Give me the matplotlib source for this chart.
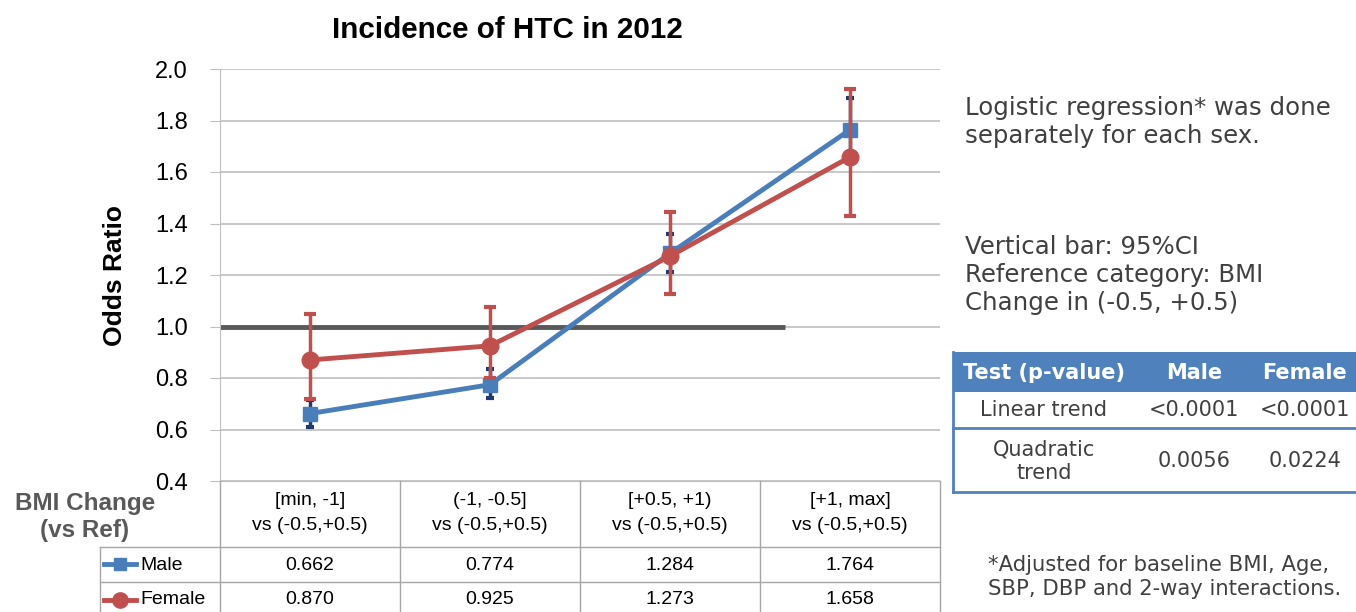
import numpy as np
import matplotlib
matplotlib.use("Agg")
import matplotlib.pyplot as plt

# data
categories = ["[min, -1]\nvs (-0.5,+0.5)", "(-1, -0.5]\nvs (-0.5,+0.5)",
              "[+0.5, +1)\nvs (-0.5,+0.5)", "[+1, max]\nvs (-0.5,+0.5)"]
male_or = [0.662, 0.774, 1.284, 1.764]
female_or = [0.870, 0.925, 1.273, 1.658]
male_lo = [0.61, 0.722, 1.213, 1.645]
male_hi = [0.715, 0.835, 1.359, 1.889]
female_lo = [0.72, 0.80, 1.125, 1.429]
female_hi = [1.048, 1.076, 1.443, 1.922]

test_names = ["Linear trend", "Quadratic\ntrend"]
male_p = ["<0.0001", "0.0056"]
female_p = ["<0.0001", "0.0224"]

BLUE = "#4A7EBB"
RED = "#C0504D"
NAVY = "#1F3B6E"
GRID = "#BFBFBF"
TXT = "#404040"

W, H = 1356, 612
fig = plt.figure(figsize=(W / 100, H / 100), dpi=100)
plt.rcParams['font.family'] = ['Liberation Sans', 'DejaVu Sans']

# main plot area (pixels 220..940 x 69..481)
ax = fig.add_axes([220 / W, 1 - 481 / H, 720 / W, 412 / H])
x = np.arange(len(categories))

ax.set_ylim(0.4, 2.0)
ax.set_xlim(-0.5, len(categories) - 0.5)
yt = np.arange(0.4, 2.01, 0.2)
ax.set_yticks(yt)
ax.set_yticklabels([f"{v:.1f}" for v in yt], fontsize=17)
ax.set_xticks([])
ax.grid(axis='y', color=GRID, lw=1.2)
ax.set_axisbelow(True)
for s in ['top', 'right']:
    ax.spines[s].set_visible(False)
ax.spines['left'].set_color(GRID)
ax.spines['bottom'].set_color(GRID)
ax.tick_params(axis='y', length=7, color=GRID, pad=16)

# reference line at OR = 1
ax.plot([-0.5, 2.64], [1.0, 1.0], color="#595959", lw=3.5, zorder=2, solid_capstyle='butt')

m = np.array(male_or)
f = np.array(female_or)
ax.errorbar(x, m, yerr=[m - np.array(male_lo), np.array(male_hi) - m], fmt='none',
            ecolor=NAVY, elinewidth=2.5, capsize=3, capthick=3, zorder=3)
ax.plot(x, m, color=BLUE, lw=3.5, marker='s', ms=10, zorder=4)
ax.errorbar(x, f, yerr=[f - np.array(female_lo), np.array(female_hi) - f], fmt='none',
            ecolor=RED, elinewidth=2.5, capsize=4, capthick=3, zorder=5)
ax.plot(x, f, color=RED, lw=3.5, marker='o', ms=12, zorder=6)

ax.set_ylabel("Odds Ratio", fontsize=19, fontweight='bold', labelpad=20)
fig.text(507 / W, 1 - 30 / H, "Incidence of HTC in 2012", fontsize=21.3,
         fontweight='bold', ha='center', va='center')

# overlay in pixel coordinates for the data table and notes
ov = fig.add_axes([0, 0, 1, 1])
ov.set_xlim(0, W)
ov.set_ylim(H, 0)
ov.axis('off')
ov.patch.set_visible(False)

lc = "#A6A6A6"
col_edges = [220 + 180 * i for i in range(len(categories) + 1)]
for xe in col_edges:
    ov.plot([xe, xe], [481, H], color=lc, lw=1)
ov.plot([100, 100], [547, H], color=lc, lw=1)
for yy in [547, 582]:
    ov.plot([100, 940], [yy, yy], color=lc, lw=1)

for i, lab in enumerate(categories):
    cx = 310 + 180 * i
    ov.text(cx, 513, lab, ha='center', va='center', fontsize=14, linespacing=1.65)
    ov.text(cx, 565, f"{male_or[i]:.3f}", ha='center', va='center', fontsize=14)
    ov.text(cx, 600, f"{female_or[i]:.3f}", ha='center', va='center', fontsize=14)

ov.text(85, 517, "BMI Change\n(vs Ref)", ha='center', va='center', fontsize=17.5,
        fontweight='bold', color="#595959", linespacing=1.2)
ov.plot([104, 136], [564, 564], color=BLUE, lw=3.5)
ov.plot([120], [564], color=BLUE, marker='s', ms=9)
ov.text(140, 565, "Male", ha='left', va='center', fontsize=14)
ov.plot([104, 136], [600, 600], color=RED, lw=3.5)
ov.plot([120], [600], color=RED, marker='o', ms=11)
ov.text(140, 600, "Female", ha='left', va='center', fontsize=14)

nf = ['DejaVu Sans']
ov.text(965, 122, "Logistic regression* was done\nseparately for each sex.",
        ha='left', va='center', fontsize=17.6, color=TXT, family=nf, linespacing=1.2)
ov.text(965, 275, "Vertical bar: 95%CI\nReference category: BMI\nChange in (-0.5, +0.5)",
        ha='left', va='center', fontsize=17.6, color=TXT, family=nf, linespacing=1.2)
ov.text(988, 577, "*Adjusted for baseline BMI, Age,\nSBP, DBP and 2-way interactions.",
        ha='left', va='center', fontsize=15.2, color=TXT, family=nf, linespacing=1.2)

# p-value table
TB = "#4F81BD"
ov.fill_between([953, W], 352, 392, color=TB, lw=0)
for yy in [428, 492]:
    ov.plot([953, W], [yy, yy], color=TB, lw=2)
ov.plot([953, 953], [352, 492], color=TB, lw=2)
hdr = [("Test (p-value)", 1044), ("Male", 1194), ("Female", 1305)]
for t, cx in hdr:
    ov.text(cx, 373, t, ha='center', va='center', fontsize=15, color='white',
            fontweight='bold', family=nf)
rows_y = [410, 461]
for i, name in enumerate(test_names):
    ov.text(1044, rows_y[i], name, ha='center', va='center', fontsize=15,
            color=TXT, family=nf, linespacing=1.2)
    ov.text(1194, rows_y[i], male_p[i], ha='center', va='center', fontsize=15,
            color=TXT, family=nf)
    ov.text(1305, rows_y[i], female_p[i], ha='center', va='center', fontsize=15,
            color=TXT, family=nf)

fig.savefig("out.png", dpi=100)
